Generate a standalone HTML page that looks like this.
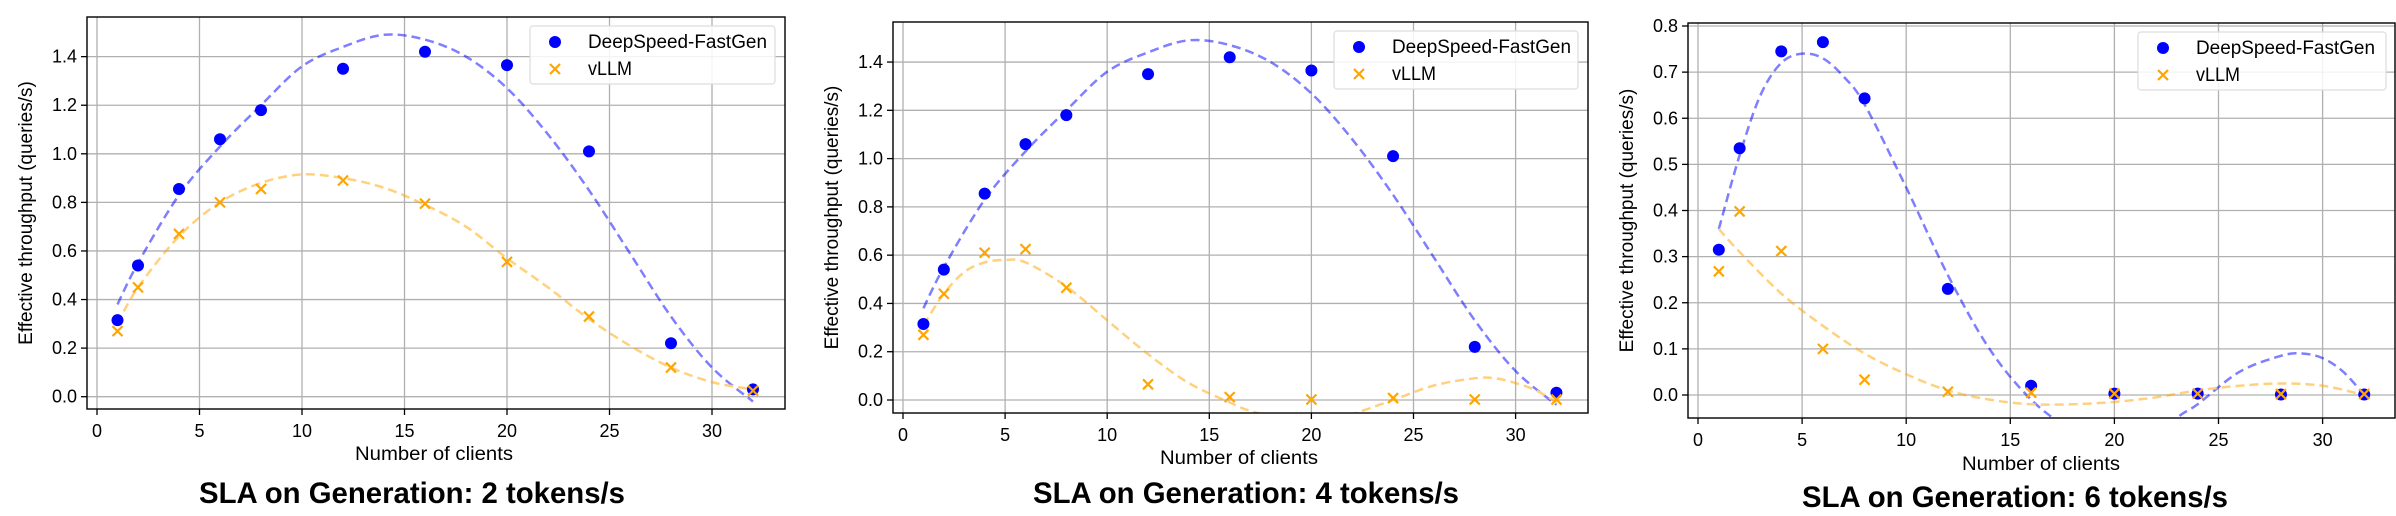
<!DOCTYPE html>
<html><head><meta charset="utf-8"><style>
html,body{margin:0;padding:0;background:#fff;}
svg{display:block;font-family:"Liberation Sans",sans-serif;}
</style></head><body>
<svg id="s" width="2396" height="516" xmlns="http://www.w3.org/2000/svg"></svg>
<script>
const S=document.getElementById('s');let H='';
const deep=[[1,.315],[2,.54],[4,.855],[6,1.06],[8,1.18],[12,1.35],[16,1.42],[20,1.365],[24,1.01],[28,.22],[32,.03]];
const blue12=[[1,.38],[2,.55],[4,.83],[6,1.03],[8,1.2],[10,1.36],[12,1.44],[14,1.49],[16,1.47],[18,1.4],[20,1.27],[22,1.08],[24,.85],[26,.59],[28,.33],[30,.12],[32,-.02]];
const P=[
{L:87,R:785,T:17,B:409,x0:97,xu:20.5,y0:396.7,yu:242.9,yt:[0,.2,.4,.6,.8,1,1.2,1.4],
 leg:[530,26,775,84],title:"SLA on  Generation: 2 tokens/s",tx:412,ty:493,xlx:434,xly:453,ylx:26,
 d:deep,v:[[1,.27],[2,.45],[4,.67],[6,.80],[8,.855],[12,.89],[16,.795],[20,.555],[24,.33],[28,.12],[32,.025]],
 bc:blue12,oc:[[1,.3],[2,.45],[4,.66],[6,.8],[8,.88],[10,.915],[12,.9],[14,.86],[16,.79],[18,.7],[20,.57],[22,.45],[24,.32],[26,.21],[28,.12],[30,.06],[32,.03]]},
{L:893,R:1588,T:22,B:413,x0:903,xu:20.42,y0:400,yu:241.4,yt:[0,.2,.4,.6,.8,1,1.2,1.4],
 leg:[1334,31,1578,89],title:"SLA on  Generation: 4 tokens/s",tx:1246,ty:493,xlx:1239,xly:457,ylx:832,
 d:deep,v:[[1,.27],[2,.44],[4,.61],[6,.625],[8,.465],[12,.065],[16,.012],[20,.002],[24,.008],[28,.002],[32,.002]],
 bc:blue12,oc:[[1,.31],[2,.44],[3,.53],[4,.57],[5,.58],[6,.57],[8,.47],[10,.33],[12,.19],[14,.07],[16,-.01],[17,-.045],[19,-.09],[20,-.1],[21,-.09],[22.5,-.045],[24,.0],[26,.06],[28,.09],[29,.09],[30,.07],[31,.04],[32,-.01]]},
{L:1688,R:2395,T:23,B:418,x0:1698,xu:20.82,y0:395,yu:461.25,yt:[0,.1,.2,.3,.4,.5,.6,.7,.8],
 leg:[2138,32,2386,90],title:"SLA on  Generation: 6 tokens/s",tx:2015,ty:497,xlx:2041,xly:463,ylx:1627,
 d:[[1,.315],[2,.535],[4,.745],[6,.765],[8,.643],[12,.23],[16,.02],[20,.003],[24,.003],[28,.001],[32,.001]],
 v:[[1,.268],[2,.398],[4,.312],[6,.1],[8,.033],[12,.007],[16,.005],[20,.003],[24,.003],[28,.002],[32,.002]],
 bc:[[1,.36],[2,.52],[3,.65],[4,.72],[5,.74],[6,.73],[7,.69],[8,.63],[10,.45],[12,.26],[14,.1],[16,-.01],[18,-.08],[20,-.14],[21.5,-.12],[23,-.05],[24,-.02],[26,.05],[28,.085],[29,.09],[30,.08],[31,.05],[32,0]],
 oc:[[1,.36],[2,.31],[4,.22],[6,.15],[8,.09],[10,.045],[12,.01],[14,-.01],[16,-.02],[18,-.02],[20,-.015],[22,-.005],[24,.01],[26,.02],[28,.025],[30,.02],[32,0]]}
];
function path(pts){let d='M'+pts[0][0]+' '+pts[0][1];
 for(let i=0;i<pts.length-1;i++){const p0=pts[Math.max(0,i-1)],p1=pts[i],p2=pts[i+1],p3=pts[Math.min(pts.length-1,i+2)];
  d+=` C${p1[0]+(p2[0]-p0[0])/6} ${p1[1]+(p2[1]-p0[1])/6} ${p2[0]-(p3[0]-p1[0])/6} ${p2[1]-(p3[1]-p1[1])/6} ${p2[0]} ${p2[1]}`;}return d;}
function X(p,x){return p.x0+x*p.xu} function Y(p,y){return p.y0-y*p.yu}
function cross(x,y,c){const r=5;return `<path d="M${x-r} ${y-r}L${x+r} ${y+r}M${x-r} ${y+r}L${x+r} ${y-r}" stroke="${c}" stroke-width="2.2"/>`}
P.forEach((p,i)=>{
 H+=`<clipPath id="c${i}"><rect x="${p.L}" y="${p.T}" width="${p.R-p.L}" height="${p.B-p.T}"/></clipPath>`;
 for(let x=0;x<=30;x+=5){const px=X(p,x);H+=`<line x1="${px}" y1="${p.T}" x2="${px}" y2="${p.B}" stroke="#b0b0b0" stroke-width="1.3"/><line x1="${px}" y1="${p.B}" x2="${px}" y2="${p.B+6}" stroke="#000" stroke-width="1.3"/><text x="${px}" y="${p.B+28}" font-size="18" text-anchor="middle">${x}</text>`;}
 p.yt.forEach(y=>{const py=Y(p,y);H+=`<line x1="${p.L}" y1="${py}" x2="${p.R}" y2="${py}" stroke="#b0b0b0" stroke-width="1.3"/><line x1="${p.L-6}" y1="${py}" x2="${p.L}" y2="${py}" stroke="#000" stroke-width="1.3"/><text x="${p.L-10}" y="${py+6}" font-size="18" text-anchor="end">${y.toFixed(1)}</text>`;});
 H+=`<g clip-path="url(#c${i})" fill="none" stroke-width="2.5" stroke-dasharray="9,5" opacity="0.5">`;
 H+=`<path d="${path(p.bc.map(q=>[X(p,q[0]),Y(p,q[1])]))}" stroke="#0000ff"/>`;
 H+=`<path d="${path(p.oc.map(q=>[X(p,q[0]),Y(p,q[1])]))}" stroke="#ffa500"/></g>`;
 p.d.forEach(q=>H+=`<ellipse cx="${X(p,q[0])}" cy="${Y(p,q[1])}" rx="6" ry="6" fill="#0000ff"/>`);
 p.v.forEach(q=>H+=cross(X(p,q[0]),Y(p,q[1]),'#ffa500'));
 H+=`<rect x="${p.L}" y="${p.T}" width="${p.R-p.L}" height="${p.B-p.T}" fill="none" stroke="#000" stroke-width="1.4"/>`;
 const g=p.leg;H+=`<rect x="${g[0]}" y="${g[1]}" width="${g[2]-g[0]}" height="${g[3]-g[1]}" rx="3" fill="#fff" fill-opacity="0.85" stroke="#ddd" stroke-width="1.2"/>`;
 H+=`<circle cx="${g[0]+25}" cy="${g[1]+16}" r="6" fill="#0000ff"/>`+cross(g[0]+25,g[1]+43,'#ffa500');
 H+=`<text x="${g[0]+58}" y="${g[1]+22}" font-size="19" textLength="179" lengthAdjust="spacingAndGlyphs">DeepSpeed-FastGen</text><text x="${g[0]+58}" y="${g[1]+49}" font-size="19" textLength="44" lengthAdjust="spacingAndGlyphs">vLLM</text>`;
 H+=`<text x="${p.xlx-79}" y="${p.xly+7}" font-size="19" textLength="158" lengthAdjust="spacingAndGlyphs">Number of clients</text>`;
 const yc=(p.T+p.B)/2;H+=`<text transform="translate(${p.ylx+6},${yc}) rotate(-90)" font-size="19" text-anchor="middle">Effective throughput (queries/s)</text>`;
 H+=`<text x="${p.tx-213}" y="${p.ty+10}" font-size="30" font-weight="bold" textLength="426" lengthAdjust="spacingAndGlyphs">${p.title}</text>`;
});
S.innerHTML=H;
</script>
</body></html>
